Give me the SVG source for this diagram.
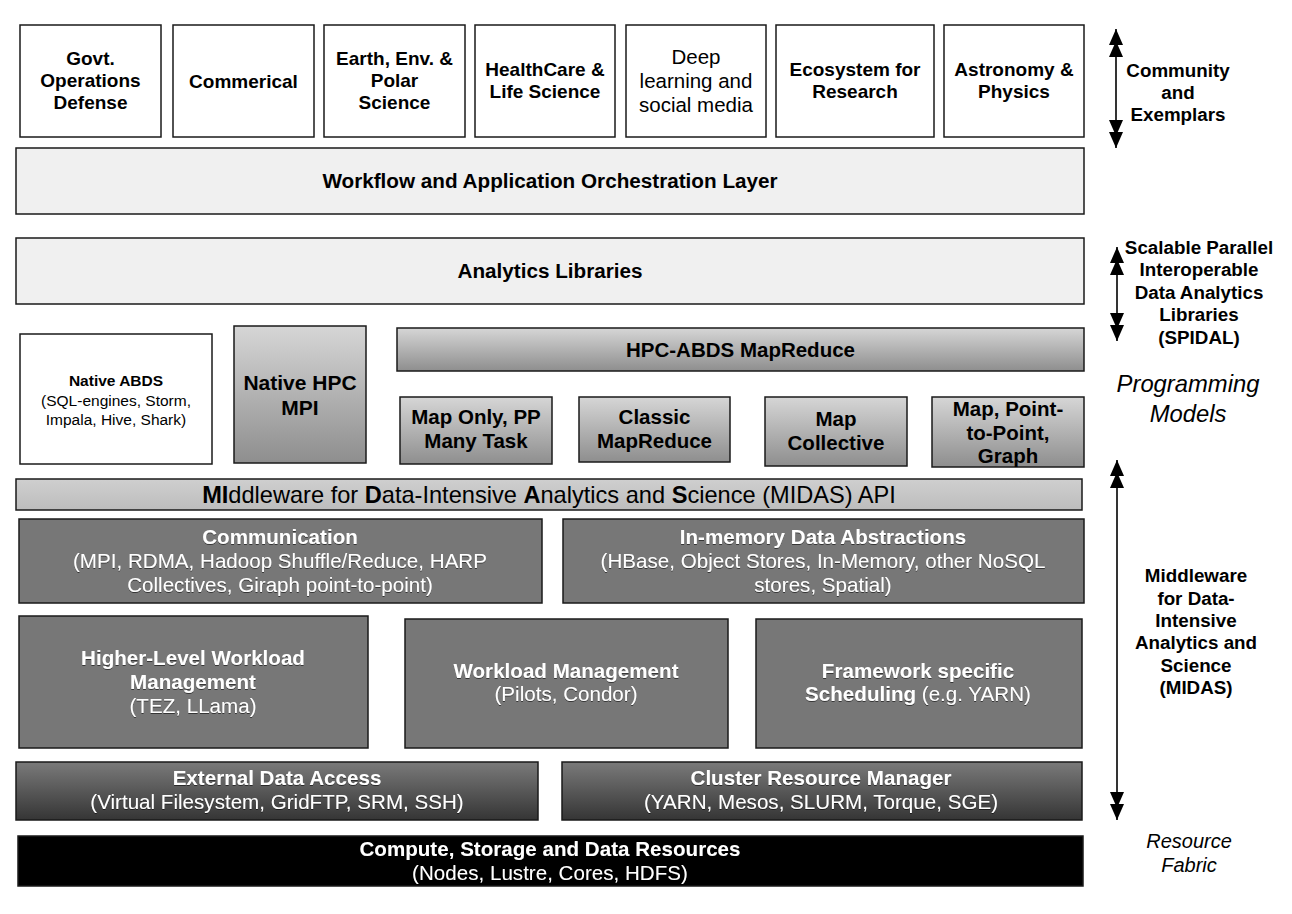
<svg xmlns="http://www.w3.org/2000/svg" width="1292" height="914" viewBox="0 0 1292 914">
  <defs>
    <linearGradient id="gLight" x1="0" y1="0" x2="0" y2="1">
      <stop offset="0" stop-color="#d6d6d6"/>
      <stop offset="1" stop-color="#8e8e8e"/>
    </linearGradient>
    <linearGradient id="gBar" x1="0" y1="0" x2="0" y2="1">
      <stop offset="0" stop-color="#cfcfcf"/>
      <stop offset="1" stop-color="#bdbdbd"/>
    </linearGradient>
    <linearGradient id="gDark" x1="0" y1="0" x2="0" y2="1">
      <stop offset="0" stop-color="#7a7a7a"/>
      <stop offset="1" stop-color="#353535"/>
    </linearGradient>
    <filter id="shade" x="-5%" y="-20%" width="110%" height="150%">
      <feDropShadow dx="0" dy="1" stdDeviation="0.6" flood-color="#000" flood-opacity="0.55"/>
    </filter>
    <!-- double-stacked arrowhead -->
    <marker id="head" viewBox="0 0 29 14" refX="28" refY="7" markerWidth="29" markerHeight="14" markerUnits="userSpaceOnUse" orient="auto-start-reverse" preserveAspectRatio="none">
      <path d="M12,0 L28,7 L12,14 Z M0,0 L16,7 L0,14 Z" fill="#000"/>
    </marker>
  </defs>
  <style>
    text { font-family: "Liberation Sans", Arial, sans-serif; text-anchor: middle; }
    .box { stroke: #1a1a1a; stroke-width: 1.5; }
    .white { fill: #ffffff; }
    .pale { fill: #f0f0f0; }
    .grad { fill: url(#gLight); }
    .bar { fill: url(#gBar); }
    .mid { fill: #777777; }
    .dark { fill: url(#gDark); }
    .black { fill: #000000; }
    .b { font-weight: bold; }
    .t19 { font-size: 19px; fill: #000; }
    .t20 { font-size: 20.5px; fill: #000; }
    .w20 { font-size: 20.6px; fill: #ffffff; filter: url(#shade); }
    .side { font-size: 18.8px; font-weight: bold; fill: #000; }
    .ital { font-style: italic; fill: #000; }
    .conn { stroke: #000; stroke-width: 1.6; fill: none; }
  </style>

  <!-- Community row -->
  <g id="govt">
    <rect class="box white" x="20" y="25" width="141" height="112"/>
    <text class="t19 b" x="90.5" y="65">Govt.</text>
    <text class="t19 b" x="90.5" y="87">Operations</text>
    <text class="t19 b" x="90.5" y="109">Defense</text>
  </g>
  <g id="commercial">
    <rect class="box white" x="173" y="25" width="141" height="112"/>
    <text class="t19 b" x="243.5" y="88">Commerical</text>
  </g>
  <g id="earth">
    <rect class="box white" x="324" y="25" width="141" height="112"/>
    <text class="t19 b" x="394.5" y="65">Earth, Env. &amp;</text>
    <text class="t19 b" x="394.5" y="87">Polar</text>
    <text class="t19 b" x="394.5" y="109">Science</text>
  </g>
  <g id="healthcare">
    <rect class="box white" x="475" y="25" width="140" height="112"/>
    <text class="t19 b" x="545" y="76">HealthCare &amp;</text>
    <text class="t19 b" x="545" y="98">Life Science</text>
  </g>
  <g id="deep-learning">
    <rect class="box white" x="626" y="25" width="140" height="112"/>
    <text class="t20" x="696" y="64">Deep</text>
    <text class="t20" x="696" y="88">learning and</text>
    <text class="t20" x="696" y="112">social media</text>
  </g>
  <g id="ecosystem">
    <rect class="box white" x="776" y="25" width="158" height="112"/>
    <text class="t19 b" x="855" y="76">Ecosystem for</text>
    <text class="t19 b" x="855" y="98">Research</text>
  </g>
  <g id="astronomy">
    <rect class="box white" x="944" y="25" width="140" height="112"/>
    <text class="t19 b" x="1014" y="76">Astronomy &amp;</text>
    <text class="t19 b" x="1014" y="98">Physics</text>
  </g>

  <!-- Layers -->
  <g id="workflow">
    <rect class="box pale" x="16" y="148" width="1068" height="66"/>
    <text class="t20 b" x="550" y="188" style="font-size:20.7px">Workflow and Application Orchestration Layer</text>
  </g>
  <g id="analytics">
    <rect class="box pale" x="16" y="238" width="1068" height="66"/>
    <text class="t20 b" x="550" y="278" style="font-size:20.7px">Analytics Libraries</text>
  </g>

  <!-- Programming models -->
  <g id="native-abds">
    <rect class="box white" x="20" y="334" width="192" height="130"/>
    <text x="116" y="386" style="font-size:15.5px;font-weight:bold;fill:#000">Native ABDS</text>
    <text x="116" y="406" style="font-size:15.5px;fill:#000">(SQL-engines, Storm,</text>
    <text x="116" y="425" style="font-size:15.5px;fill:#000">Impala, Hive, Shark)</text>
  </g>
  <g id="native-hpc">
    <rect class="box grad" x="234" y="326" width="132" height="137"/>
    <text x="300" y="390" style="font-size:21px;font-weight:bold;fill:#000">Native HPC</text>
    <text x="300" y="415" style="font-size:21px;font-weight:bold;fill:#000">MPI</text>
  </g>
  <g id="hpc-abds-mapreduce">
    <rect class="box grad" x="397" y="328" width="687" height="43"/>
    <text class="t20 b" x="740.5" y="357">HPC-ABDS MapReduce</text>
  </g>
  <g id="map-only">
    <rect class="box grad" x="400" y="397" width="152" height="67"/>
    <text class="t20 b" x="476" y="424">Map Only, PP</text>
    <text class="t20 b" x="476" y="448">Many Task</text>
  </g>
  <g id="classic-mapreduce">
    <rect class="box grad" x="579" y="397" width="151" height="65"/>
    <text class="t20 b" x="654.5" y="424">Classic</text>
    <text class="t20 b" x="654.5" y="448">MapReduce</text>
  </g>
  <g id="map-collective">
    <rect class="box grad" x="765" y="397" width="142" height="69"/>
    <text class="t20 b" x="836" y="426">Map</text>
    <text class="t20 b" x="836" y="450">Collective</text>
  </g>
  <g id="map-p2p-graph">
    <rect class="box grad" x="932" y="397" width="152" height="70"/>
    <text class="t20 b" x="1008" y="416">Map, Point-</text>
    <text class="t20 b" x="1008" y="440">to-Point,</text>
    <text class="t20 b" x="1008" y="463">Graph</text>
  </g>

  <!-- MIDAS -->
  <g id="midas-api">
    <rect class="box bar" x="16" y="479" width="1066" height="31"/>
    <text x="549" y="503" style="font-size:23.6px;fill:#000"><tspan font-weight="bold">MI</tspan>ddleware for <tspan font-weight="bold">D</tspan>ata-Intensive <tspan font-weight="bold">A</tspan>nalytics and <tspan font-weight="bold">S</tspan>cience (MIDAS) API</text>
  </g>
  <g id="communication">
    <rect class="box mid" x="19" y="519" width="523" height="84"/>
    <text class="w20 b" x="280" y="544">Communication</text>
    <text class="w20" x="280" y="568">(MPI, RDMA, Hadoop Shuffle/Reduce, HARP</text>
    <text class="w20" x="280" y="592">Collectives, Giraph point-to-point)</text>
  </g>
  <g id="in-memory">
    <rect class="box mid" x="563" y="519" width="521" height="84"/>
    <text class="w20 b" x="823" y="544">In-memory Data Abstractions</text>
    <text class="w20" x="823" y="568">(HBase, Object Stores, In-Memory, other NoSQL</text>
    <text class="w20" x="823" y="592">stores, Spatial)</text>
  </g>
  <g id="higher-level-workload">
    <rect class="box mid" x="19" y="616" width="349" height="132"/>
    <text class="w20 b" x="193" y="665">Higher-Level Workload</text>
    <text class="w20 b" x="193" y="689">Management</text>
    <text class="w20" x="193" y="713">(TEZ, LLama)</text>
  </g>
  <g id="workload-management">
    <rect class="box mid" x="405" y="619" width="323" height="129"/>
    <text class="w20 b" x="566" y="678">Workload Management</text>
    <text class="w20" x="566" y="701">(Pilots, Condor)</text>
  </g>
  <g id="framework-scheduling">
    <rect class="box mid" x="756" y="619" width="326" height="129"/>
    <text class="w20 b" x="918" y="678">Framework specific</text>
    <text class="w20" x="918" y="701"><tspan font-weight="bold">Scheduling</tspan> (e.g. YARN)</text>
  </g>
  <g id="external-data-access">
    <rect class="box dark" x="16" y="762" width="522" height="58"/>
    <text class="w20 b" x="277" y="785">External Data Access</text>
    <text class="w20" x="277" y="809">(Virtual Filesystem, GridFTP, SRM, SSH)</text>
  </g>
  <g id="cluster-resource-manager">
    <rect class="box dark" x="562" y="762" width="520" height="58"/>
    <text class="w20 b" x="821" y="785">Cluster Resource Manager</text>
    <text class="w20" x="821" y="809">(YARN, Mesos, SLURM, Torque, SGE)</text>
  </g>
  <g id="compute-storage">
    <rect class="box black" x="18" y="836" width="1065" height="50"/>
    <text class="w20 b" x="550" y="856">Compute, Storage and Data Resources</text>
    <text class="w20" x="550" y="880">(Nodes, Lustre, Cores, HDFS)</text>
  </g>

  <!-- Side labels -->
  <g id="label-community">
    <text class="side" x="1178" y="77">Community</text>
    <text class="side" x="1178" y="99">and</text>
    <text class="side" x="1178" y="121">Exemplars</text>
  </g>
  <g id="label-spidal">
    <text class="side" x="1199" y="254">Scalable Parallel</text>
    <text class="side" x="1199" y="276">Interoperable</text>
    <text class="side" x="1199" y="299">Data Analytics</text>
    <text class="side" x="1199" y="321">Libraries</text>
    <text class="side" x="1199" y="344">(SPIDAL)</text>
  </g>
  <g id="label-programming">
    <text class="ital" x="1188" y="392" style="font-size:23.8px">Programming</text>
    <text class="ital" x="1188" y="422" style="font-size:23.8px">Models</text>
  </g>
  <g id="label-midas">
    <text class="side" x="1196" y="582">Middleware</text>
    <text class="side" x="1196" y="605">for Data-</text>
    <text class="side" x="1196" y="627">Intensive</text>
    <text class="side" x="1196" y="649">Analytics and</text>
    <text class="side" x="1196" y="672">Science</text>
    <text class="side" x="1196" y="694">(MIDAS)</text>
  </g>
  <g id="label-fabric">
    <text class="ital" x="1189" y="848" style="font-size:20px">Resource</text>
    <text class="ital" x="1189" y="872" style="font-size:20px">Fabric</text>
  </g>

  <!-- Span arrows -->
  <g id="connectors">
    <line class="conn" x1="1116" y1="29" x2="1116" y2="148" marker-start="url(#head)" marker-end="url(#head)"/>
    <line class="conn" x1="1117" y1="247" x2="1117" y2="341" marker-start="url(#head)" marker-end="url(#head)"/>
    <line class="conn" x1="1117" y1="460" x2="1117" y2="820" marker-start="url(#head)" marker-end="url(#head)"/>
  </g>
</svg>
